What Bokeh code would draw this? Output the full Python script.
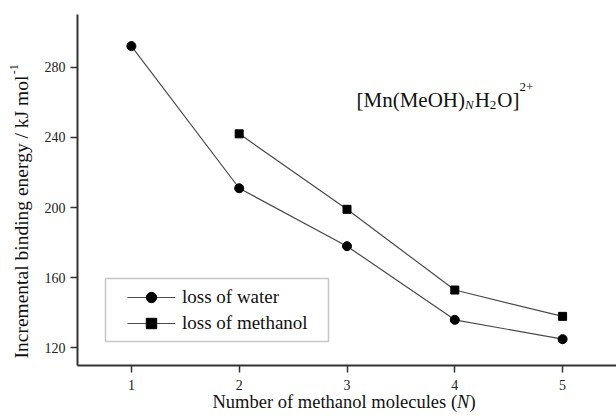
import math
from bokeh.plotting import figure
from bokeh.models import Range1d, FixedTicker, Label, Legend, LegendItem, BoxAnnotation
from bokeh.embed import file_html
from bokeh.resources import INLINE

# ---- data ----
n_water = [1, 2, 3, 4, 5]
e_water = [292, 211, 178, 136, 125]
n_meoh = [2, 3, 4, 5]
e_meoh = [242, 199, 153, 138]
x_ticks = [1, 2, 3, 4, 5]
y_ticks = [120, 160, 200, 240, 280]
legend_labels = ["loss of water", "loss of methanol"]

FONT = "Liberation Serif"
INK = "#111111"
LINE = "#4a4a4a"
H = 420

# Times-compatible advance widths (em) for laying out mixed-style text
W = {' ': .25, '(': .333, ')': .333, '[': .333, ']': .333, '/': .278, '+': .564, '-': .333,
     'H': .722, 'I': .333, 'J': .389, 'M': .889, 'N': .722, 'O': .722,
     'a': .444, 'b': .5, 'c': .444, 'd': .5, 'e': .444, 'f': .333, 'g': .5, 'h': .5,
     'i': .278, 'k': .5, 'l': .278, 'm': .778, 'n': .5, 'o': .5, 'r': .333, 's': .389,
     't': .278, 'u': .5, 'w': .722, 'y': .5}


def tw(s, size, italic=False):
    tot = 0.0
    for ch in s:
        if ch.isdigit():
            tot += .5
        elif italic and ch == 'N':
            tot += .667
        else:
            tot += W.get(ch, .5)
    return tot * size


FL, FB = 77, 365  # frame left / bottom in canvas pixels
SHIFT = 7         # empirical baseline correction

p = figure(width=616, height=H, output_backend="svg", toolbar_location=None,
           x_range=Range1d(0.5, 5.5), y_range=Range1d(110, 310),
           min_border_left=FL, min_border_right=0, min_border_top=14, min_border_bottom=H - FB)
p.outline_line_color = None
p.grid.visible = False
p.background_fill_color = "white"
p.border_fill_color = "white"

for ax, ticks, standoff in ((p.xaxis, x_ticks, 7), (p.yaxis, y_ticks, 5)):
    ax.ticker = FixedTicker(ticks=ticks)
    ax.axis_line_width = 2
    ax.axis_line_color = "#333333"
    ax.major_tick_line_color = "#333333"
    ax.major_tick_line_width = 1.5
    ax.major_tick_out = 7
    ax.major_tick_in = 0
    ax.minor_tick_line_color = None
    ax.major_label_text_font = FONT
    ax.major_label_text_font_size = "14px"
    ax.major_label_text_color = "#222222"
    ax.major_label_standoff = standoff

lw = p.line(n_water, e_water, line_color=LINE, line_width=1.2)
sw = p.scatter(n_water, e_water, marker="circle", size=9, fill_color="black", line_color="black")
lm = p.line(n_meoh, e_meoh, line_color=LINE, line_width=1.2)
sm = p.scatter(n_meoh, e_meoh, marker="square", size=8, fill_color="black", line_color="black")

legend = Legend(items=[LegendItem(label=legend_labels[0], renderers=[lw, sw]),
                       LegendItem(label=legend_labels[1], renderers=[lm, sm])],
                location=(127 - FL, FB - 336), padding=0, margin=0, spacing=0,
                glyph_width=48, glyph_height=26, label_height=26, label_standoff=7,
                label_text_font=FONT, label_text_font_size="19px", label_text_color=INK,
                border_line_alpha=0, background_fill_alpha=0)
p.add_layout(legend, "center")

box = BoxAnnotation(left=105 - FL, right=328 - FL, bottom=FB - 341, top=FB - 278,
                    left_units="screen", right_units="screen", top_units="screen", bottom_units="screen",
                    fill_color=None, fill_alpha=0, line_color="#444444", line_width=1.5)
p.add_layout(box)


def lab(x, y, text, size, italic=False, angle=0.0, place="center", units="screen"):
    l = Label(x=x, y=y, x_units=units, y_units=units, text=text,
              text_font=FONT, text_font_size=f"{size}px",
              text_font_style="italic" if italic else "normal",
              text_color=INK, text_align="left", text_baseline="alphabetic",
              angle=angle)
    if place == "center":
        p.add_layout(l)
    else:
        p.add_layout(l, place)


# annotation [Mn(MeOH)_N H_2 O]^{2+}  (frame-relative screen units, y up)
MAIN, SMALL = 21, 13
xb = 356 - FL
base, sub, sup = FB - 106 + SHIFT, FB - 111 + SHIFT, FB - 93 + SHIFT
pieces = [("[Mn(MeOH)", MAIN, False, base), ("N", SMALL, True, sub), ("H", MAIN, False, base),
          ("2", SMALL, False, sub), ("O]", MAIN, False, base), ("2+", SMALL, False, sup)]
for txt, sz, it, yy in pieces:
    lab(xb, yy, txt, sz, it)
    xb += tw(txt, sz, it) + (1 if sz == SMALL else 0)

# x-axis title (canvas units, y from top); pieces spread over side panels
XT = 18.5
xb = 212
for (txt, it), place in zip((("Number of methanol molecules (", False), ("N", True), (")", False)),
                            ("below", "left", "left")):
    lab(xb, 408 - SHIFT, txt, XT, it, place=place, units="canvas")
    xb += tw(txt, XT, it)

# y-axis title (rotated, reads upward)
YT = 19.5
ytxt = "Incremental binding energy / kJ mol"
y0 = 358
lab(27 - 6, y0, ytxt, YT, angle=math.pi / 2, place="left", units="canvas")
lab(19 - 6, y0 - tw(ytxt, YT) - 1, "-1", 12, angle=math.pi / 2, place="above", units="canvas")

open("out.html", "w").write(file_html(p, INLINE))
